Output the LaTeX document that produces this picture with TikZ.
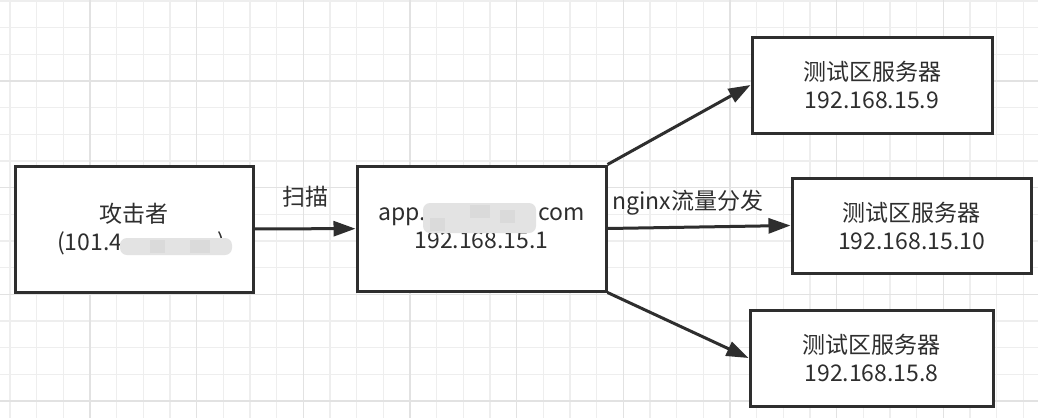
\documentclass[tikz,border=0pt]{standalone}
\usepackage{fontspec}
\setmainfont{Noto Sans CJK SC}
\usetikzlibrary{arrows.meta}
\definecolor{ink}{HTML}{2E2E2E}
\definecolor{gridminor}{HTML}{EEEEEE}
\definecolor{gridmajor}{HTML}{E2E2E2}
\begin{document}
\begin{tikzpicture}[x=1pt,y=-1pt,
  box/.style={draw=ink, line width=3pt, fill=white, rectangle, inner sep=0pt, align=center, text=ink, font=\fontsize{23}{28}\selectfont},
  conn/.style={draw=ink, line width=3pt, -{Triangle[length=22pt,width=15pt]}},
  lbl/.style={text=ink, font=\fontsize{23}{28}\selectfont, inner sep=0pt},
  blur/.style={fill=gray!22, rounded corners=7pt},
  mosaic/.style={fill=gray!29}]
\useasboundingbox (0,0) rectangle (1038,418);
\fill[white] (0,0) rectangle (1038,418);
\foreach \i in {0,...,39} {\draw[gridminor, line width=1.5pt] ({10+26.667*\i},0) -- ++(0,418);}
\foreach \i in {0,...,15} {\draw[gridminor, line width=1.5pt] (0,{1+26.667*\i}) -- ++(1038,0);}
\foreach \i in {0,...,9} {\draw[gridmajor, line width=1.5pt] ({90+106.667*\i},0) -- ++(0,418);}
\foreach \i in {0,...,3} {\draw[gridmajor, line width=1.5pt] (0,{81+106.667*\i}) -- ++(1038,0);}

\node[box, minimum width=238pt, minimum height=126pt] (att) at (134,229) {攻击者\\\hspace*{14pt}(101.4\hspace{95pt})};
\node[box, minimum width=249pt, minimum height=125pt] (app) at (481.5,228.5) {app.\hspace{112pt}com\\192.168.15.1};
\node[box, minimum width=240pt, minimum height=96pt] (s9) at (872,85) {测试区服务器\\192.168.15.9};
\node[box, minimum width=239pt, minimum height=95pt] (s10) at (911.5,225.5) {测试区服务器\\192.168.15.10};
\node[box, minimum width=243pt, minimum height=96pt] (s8) at (871.5,358) {测试区服务器\\192.168.15.8};

% blurred (masked) parts
\fill[blur] (120,238) rectangle (232,255);
\fill[mosaic] (150,240) rectangle (165,253);
\fill[mosaic] (190,240) rectangle (210,253);
\fill[blur] (423,203) rectangle (536,233);
\fill[mosaic] (470,205) rectangle (490,218);
\fill[mosaic] (430,218) rectangle (445,231);
\fill[mosaic] (500,210) rectangle (515,223);

\draw[conn] (att) -- (app);
\draw[conn] (app.north east) -- (s9.west);
\draw[conn] (app.east) -- (s10.west);
\draw[conn] (app.south east) -- (s8.west);

\node[lbl] (l1) at (305,197) {扫描};
\node[lbl] (l2) at (688,203) {nginx流量分发};
\end{tikzpicture}
\end{document}
